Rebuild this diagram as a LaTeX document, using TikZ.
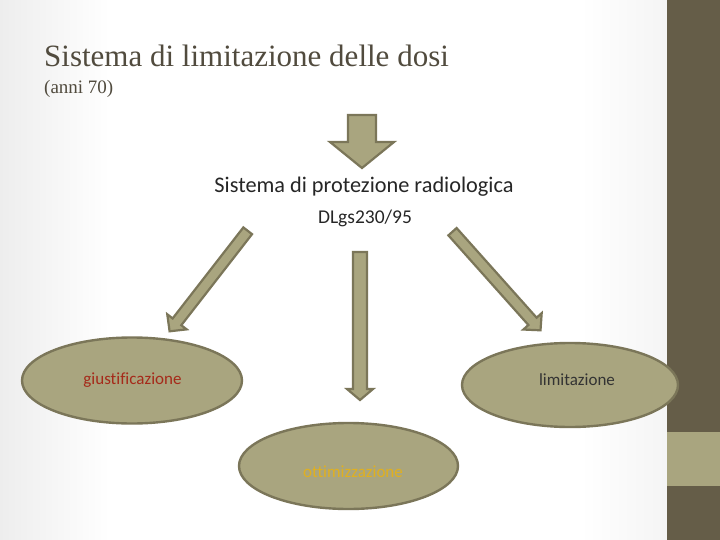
\documentclass[tikz,border=0pt]{standalone}
\usepackage{fontspec}
\setmainfont{Liberation Serif}
\newfontfamily\slidesans[Ligatures=NoCommon]{Carlito}
\usetikzlibrary{calc,shapes.geometric}
\definecolor{olive}{HTML}{A9A57F}
\definecolor{oliveline}{HTML}{7B7659}
\definecolor{bardark}{HTML}{655D48}
\definecolor{titlegray}{HTML}{514B3E}
\definecolor{giustred}{HTML}{A52A1A}
\definecolor{ottimgold}{HTML}{E0B020}
% block arrow from tail #1 to tip #2: shaft half width #3, head half width #4, head length #5
\newcommand{\fatarrow}[5]{%
  \coordinate (fa-h) at ($(#2)!#5!(#1)$);
  \draw[fatarrow] ($(#1)!#3!90:(#2)$) -- ($(fa-h)!#3!-90:(#1)$) -- ($(fa-h)!#4!-90:(#1)$)
    -- (#2) -- ($(fa-h)!#4!90:(#1)$) -- ($(fa-h)!#3!90:(#1)$) -- ($(#1)!#3!-90:(#2)$) -- cycle;}
\begin{document}
\begin{tikzpicture}[x=1pt,y=-1pt,
  fatarrow/.style={fill=olive,draw=oliveline,line width=2.2pt,line join=miter},
  bubble/.style={ellipse,fill=olive,draw=oliveline,line width=2.4pt,inner sep=0pt},
  bubbletext/.style={inner sep=0pt,font=\slidesans\fontsize{17}{20}\selectfont}]
\useasboundingbox (0,0) rectangle (720,540);
% background
\fill[white] (0,0) rectangle (720,540);
\shade[left color=gray!14,right color=white] (0,0) rectangle (110,540);
\shade[left color=white,right color=gray!8] (580,0) rectangle (667,540);
\fill[bardark] (667,0) rectangle (720,540);
\fill[olive] (667,432) rectangle (720,486);
%
\node[anchor=base west,inner sep=0pt,text=titlegray,font=\fontsize{31}{36}\selectfont] (title) at (44,67) {Sistema di limitazione delle dosi};
\node[anchor=base west,inner sep=0pt,text=titlegray,font=\fontsize{19}{22}\selectfont] (anni) at (44,94) {(anni 70)};
\node[anchor=base,inner sep=0pt,text=black!85,font=\slidesans\fontsize{22.3}{26}\selectfont] (prot) at (364,193) {Sistema di protezione radiologica};
\node[anchor=base,inner sep=0pt,text=black!85,font=\slidesans\fontsize{19.5}{23}\selectfont] (dlgs) at (365,223) {DLgs230/95};
%
\coordinate (top-a) at (362,115);
\coordinate (top-b) at (362,168);
\coordinate (left-a) at (247.7,230.8);
\coordinate (left-b) at (169.6,331.3);
\coordinate (mid-a) at (360,252);
\coordinate (mid-b) at (360,400);
\coordinate (right-a) at (452.5,231.7);
\coordinate (right-b) at (540.5,330.3);
%
\fatarrow{top-a}{top-b}{14pt}{32pt}{26pt}
\fatarrow{left-a}{left-b}{5.5pt}{12.3pt}{12pt}
\fatarrow{mid-a}{mid-b}{7pt}{13pt}{11pt}
\fatarrow{right-a}{right-b}{5.5pt}{12.3pt}{12pt}
%
\node[bubble,minimum width=220pt,minimum height=86pt,
  label={[bubbletext,text=giustred,xshift=0.5pt]center:giustificazione}] (giust) at (132,380.5) {};
\node[bubble,minimum width=216pt,minimum height=84pt,
  label={[bubbletext,text=black!80,xshift=7pt,yshift=5pt]center:limitazione}] (limit) at (570,385) {};
\node[bubble,minimum width=219pt,minimum height=86pt,
  label={[bubbletext,text=ottimgold,xshift=4.5pt,yshift=-6pt]center:ottimizzazione}] (ottim) at (348.5,466) {};
%
\end{tikzpicture}
\end{document}
